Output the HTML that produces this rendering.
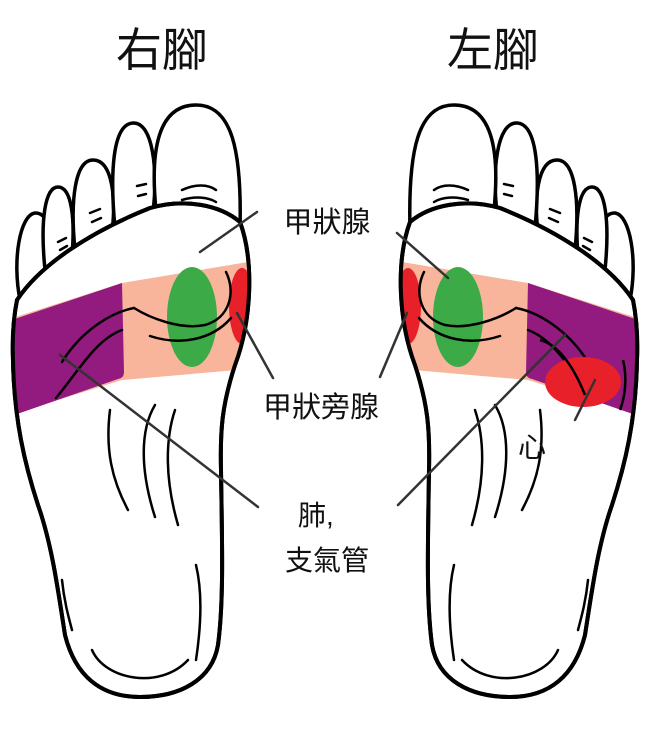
<!DOCTYPE html>
<html><head><meta charset="utf-8"><style>
html,body{margin:0;padding:0;background:#fff;width:650px;height:738px;overflow:hidden}
svg{display:block}
text{font-family:"Liberation Sans","Noto Sans CJK TC","WenQuanYi Zen Hei",sans-serif;fill:#111}
</style></head><body>
<svg width="650" height="738" viewBox="0 0 650 738" xmlns="http://www.w3.org/2000/svg">
<defs>
<path id="body" d="M17 300 C40 265, 90 232, 150 208 C185 198, 220 205, 240 222 C254 260, 252 320, 235 365 C222 405, 220 430, 221 470 C222 540, 224 600, 218 645 C212 680, 180 697, 140 697 C100 697, 75 675, 65 635 C58 590, 52 545, 38 505 C25 465, 14 420, 13 360 C12 335, 14 315, 17 300 Z"/>
<clipPath id="clip"><use href="#body"/></clipPath>
<g id="foot">
  <g fill="#fff" stroke="#000" stroke-width="3.5">
    <path d="M20 300 C12 260, 20 215, 35 213 C50 212, 55 240, 55 285 Z"/>
    <path d="M45 270 C40 220, 45 187, 58 187 C72 187, 75 220, 72 255 Z"/>
    <path d="M75 250 C70 200, 75 160, 93 160 C113 160, 116 200, 112 232 Z"/>
    <path d="M115 228 C110 175, 112 124, 133 123 C153 122, 158 170, 153 212 Z"/>
    <path d="M156 210 C150 150, 158 105, 196 105 C232 105, 242 150, 240 230 Z"/>
  </g>
  <use href="#body" fill="#fff" stroke="#000" stroke-width="4"/>
  <g clip-path="url(#clip)">
    <path d="M0 322 L122 283 L260 260 L260 368 L122 380 L0 418 Z" fill="#f8b59b"/>
    <path d="M0 324 L122 283 L124 372 Q124 378 118 379 L0 420 Z" fill="#931a7e"/>
    <ellipse cx="192" cy="317" rx="25" ry="50" fill="#3daa48"/>
    <ellipse cx="242" cy="306" rx="13" ry="38" fill="#e8202a"/>
  </g>
  <use href="#body" fill="none" stroke="#000" stroke-width="4"/>
  <g fill="none" stroke="#000" stroke-width="2.5" stroke-linecap="round">
    <path d="M134 308 C150 318, 180 330, 205 325 C230 318, 236 292, 226 272"/>
    <path d="M150 336 C180 346, 212 340, 231 318"/>
    <path d="M134 308 C112 312, 82 330, 62 362"/>
    <path d="M122 330 C95 340, 78 372, 56 398"/>
    <path d="M58 242 L66 238 M60 250 L67 246 M90 213 L100 209 M92 222 L101 218 M137 186 L146 184 M138 196 L146 194 M182 190 C195 184, 208 184, 216 190 M182 200 C195 196, 208 197, 216 202"/>
    <path d="M155 405 C140 430, 140 470, 155 517"/>
    <path d="M175 410 C165 440, 165 480, 178 525"/>
    <path d="M110 410 C105 450, 112 480, 128 510"/>
    <path d="M92 650 C105 680, 160 690, 188 660"/>
    <path d="M196 565 C202 590, 202 620, 196 660"/>
    <path d="M62 580 C64 600, 68 615, 72 630"/>
  </g>
</g>
</defs>
<use href="#foot"/>
<use href="#foot" transform="translate(650,0) scale(-1,1)"/>
<ellipse cx="583" cy="382" rx="38" ry="25" fill="#e8202a"/>
<path d="M623 360 C628 380, 624 400, 620 410" fill="none" stroke="#000" stroke-width="2.5"/>
<path d="M540 340 C560 345, 575 370, 585 395" fill="none" stroke="#000" stroke-width="2.5"/>
<g stroke="#333" stroke-width="2.5" stroke-linecap="round">
  <line x1="257" y1="212" x2="200" y2="252"/>
  <line x1="397" y1="233" x2="448" y2="278"/>
  <line x1="237" y1="313" x2="273" y2="378"/>
  <line x1="407" y1="313" x2="380" y2="377"/>
  <line x1="60" y1="355" x2="258" y2="507"/>
  <line x1="565" y1="335" x2="398" y2="505"/>
  <line x1="595" y1="380" x2="575" y2="420"/>
</g>
<text x="162" y="66" font-size="46" text-anchor="middle">右腳</text>
<text x="493" y="66" font-size="46" text-anchor="middle">左腳</text>
<text x="327" y="232" font-size="29" text-anchor="middle">甲狀腺</text>
<text x="321" y="417" font-size="29" text-anchor="middle">甲狀旁腺</text>
<text x="298" y="525" font-size="28">肺,</text>
<text x="327" y="570" font-size="28" text-anchor="middle">支氣管</text>
<text x="532" y="457" font-size="28" text-anchor="middle">心</text>
</svg>
</body></html>
